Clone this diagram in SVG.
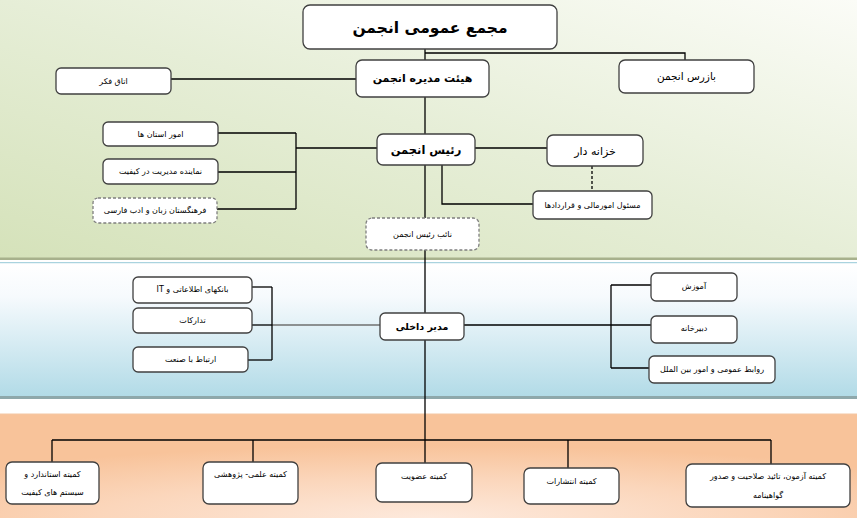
<svg xmlns="http://www.w3.org/2000/svg" width="857" height="518" viewBox="0 0 857 518">
<defs>
<linearGradient id="gGreen" x1="1" y1="0" x2="0" y2="1">
<stop offset="0" stop-color="#fbfcf7"/>
<stop offset="0.5" stop-color="#e6eed7"/>
<stop offset="1" stop-color="#d5e2ba"/>
</linearGradient>
<linearGradient id="gBlue" x1="0" y1="0" x2="0" y2="1">
<stop offset="0" stop-color="#ffffff"/>
<stop offset="0.25" stop-color="#f6fafd"/>
<stop offset="1" stop-color="#b2dbe7"/>
</linearGradient>
<radialGradient id="gOrange" cx="0.5" cy="1" r="0.7">
<stop offset="0" stop-color="#fde9dc"/>
<stop offset="0.55" stop-color="#fbd6bb"/>
<stop offset="1" stop-color="#f8c39a"/>
</radialGradient>
<style>
.box{fill:#fff;stroke:#404040;stroke-width:1.3}
.dbox{fill:#fff;stroke:#7f7f7f;stroke-width:1.3;stroke-dasharray:3 2}
.ln{fill:none;stroke:#000;stroke-width:1.3}
.dash{fill:none;stroke:#000;stroke-width:1.3;stroke-dasharray:3 2}
text{font-family:"DejaVu Sans","Noto Sans",sans-serif;fill:#000;text-anchor:middle;direction:rtl;unicode-bidi:embed}
.s{font-size:8px}
.b{font-weight:bold}
</style>
</defs>

<!-- background bands -->
<rect x="0" y="0" width="857" height="258" fill="url(#gGreen)"/>
<rect x="0" y="257.5" width="857" height="2.5" fill="#a7b18c"/>
<rect x="0" y="262" width="857" height="1.5" fill="#a9d3df"/>
<rect x="0" y="263.5" width="857" height="132.5" fill="url(#gBlue)"/>
<rect x="0" y="396" width="857" height="3" fill="#8ea8ab"/>
<rect x="0" y="414" width="857" height="104" fill="url(#gOrange)"/>
<rect x="0" y="413.5" width="857" height="1" fill="#f3c7a4"/>

<g id="connectors">
<path class="ln" d="M425 49 V60"/>
<path class="ln" d="M425 53 H685 V60"/>
<path class="ln" d="M171 79 H356"/>
<path class="ln" d="M425 97 V134"/>
<path class="ln" d="M377 148 H296"/>
<path class="ln" d="M296 133 V209"/>
<path class="ln" d="M218 133 H296"/>
<path class="ln" d="M218 172 H296"/>
<path class="ln" d="M217 209 H296"/>
<path class="ln" d="M475 148 H547"/>
<path class="dash" d="M592 166 V191"/>
<path class="ln" d="M442 165 V204 H533"/>
<path class="ln" d="M425 165 V218"/>
<path class="ln" d="M425 250 V313"/>
<path class="ln" d="M425 340 V463"/>
<path fill="none" stroke="#6f6f6f" stroke-width="1.6" d="M380 325 H272"/>
<path class="ln" d="M272 287 V360"/>
<path class="ln" d="M252 287 H272"/>
<path class="ln" d="M252 325 H272"/>
<path class="ln" d="M248 360 H272"/>
<path class="ln" d="M464 325 H611"/>
<path class="ln" d="M611 285 V368"/>
<path class="ln" d="M611 285 H651"/>
<path class="ln" d="M611 325 H651"/>
<path class="ln" d="M611 368 H649"/>
<path class="ln" d="M52 440 H771"/>
<path class="ln" d="M52 440 V462"/>
<path class="ln" d="M253 440 V462"/>
<path class="ln" d="M568 440 V468"/>
<path class="ln" d="M771 440 V464"/>
</g>

<g id="n-general-assembly">
<rect class="box" x="303" y="5" width="254" height="44" rx="7"/>
<text class="b" x="430" y="33" font-size="15.5">مجمع عمومی انجمن</text>
</g>
<g id="n-board">
<rect class="box" x="356" y="60" width="133" height="37" rx="6"/>
<text class="b" x="422.5" y="82" font-size="11">هیئت مدیره انجمن</text>
</g>
<g id="n-inspector">
<rect class="box" x="619" y="60" width="135" height="33" rx="6"/>
<text x="686.5" y="80" font-size="10.5">بازرس انجمن</text>
</g>
<g id="n-thinktank">
<rect class="box" x="56" y="68" width="115" height="26" rx="5"/>
<text class="s" x="113.5" y="84">اتاق فکر</text>
</g>
<g id="n-president">
<rect class="box" x="377" y="134" width="98" height="31" rx="6"/>
<text class="b" x="426" y="154" font-size="11.5">رئیس انجمن</text>
</g>
<g id="n-treasurer">
<rect class="box" x="547" y="135" width="96" height="31" rx="6"/>
<text x="595" y="155" font-size="11">خزانه دار</text>
</g>
<g id="n-finance">
<rect class="box" x="533" y="191" width="119" height="28" rx="5"/>
<text class="s" x="592.5" y="208">مسئول امورمالی و قراردادها</text>
</g>
<g id="n-vice">
<rect class="dbox" x="366" y="218" width="113" height="32" rx="6"/>
<text class="s" x="422.5" y="237">نائب رئیس انجمن</text>
</g>
<g id="n-provinces">
<rect class="box" x="103" y="122" width="115" height="24" rx="5"/>
<text class="s" x="160.5" y="137">امور استان ها</text>
</g>
<g id="n-quality-rep">
<rect class="box" x="103" y="159" width="115" height="25" rx="5"/>
<text class="s" x="160.5" y="174">نماینده مدیریت در کیفیت</text>
</g>
<g id="n-academy">
<rect class="dbox" x="93" y="198" width="124" height="25" rx="5"/>
<text class="s" x="155" y="213">فرهنگستان زبان و ادب فارسی</text>
</g>
<g id="n-internal-manager">
<rect class="box" x="380" y="313" width="84" height="27" rx="5"/>
<text class="b" x="422" y="330" font-size="9.5">مدیر داخلی</text>
</g>
<g id="n-it">
<rect class="box" x="133" y="277" width="119" height="26" rx="5"/>
<text class="s" x="192.5" y="292">بانکهای اطلاعاتی و IT</text>
</g>
<g id="n-procurement">
<rect class="box" x="133" y="308" width="119" height="25" rx="5"/>
<text class="s" x="192.5" y="323">تدارکات</text>
</g>
<g id="n-industry">
<rect class="box" x="133" y="347" width="115" height="25" rx="5"/>
<text class="s" x="190.5" y="362">ارتباط با صنعت</text>
</g>
<g id="n-training">
<rect class="box" x="651" y="273" width="86" height="28" rx="5"/>
<text class="s" x="694" y="289">آموزش</text>
</g>
<g id="n-secretariat">
<rect class="box" x="651" y="316" width="86" height="27" rx="5"/>
<text class="s" x="694" y="331">دبیرخانه</text>
</g>
<g id="n-pr">
<rect class="box" x="649" y="356" width="126" height="27" rx="5"/>
<text class="s" x="712" y="372">روابط عمومی و امور بین الملل</text>
</g>
<g id="n-standards">
<rect class="box" x="6" y="462" width="93" height="42" rx="6"/>
<text class="s" x="52.5" y="477">کمیته استاندارد و</text>
<text class="s" x="52.5" y="495">سیستم های کیفیت</text>
</g>
<g id="n-scientific">
<rect class="box" x="203" y="462" width="95" height="42" rx="6"/>
<text class="s" x="250.5" y="477">کمیته علمی- پژوهشی</text>
</g>
<g id="n-membership">
<rect class="box" x="376" y="463" width="96" height="39" rx="6"/>
<text class="s" x="424" y="479">کمیته عضویت</text>
</g>
<g id="n-publications">
<rect class="box" x="524" y="468" width="95" height="36" rx="6"/>
<text class="s" x="571.5" y="484">کمیته انتشارات</text>
</g>
<g id="n-exam">
<rect class="box" x="686" y="464" width="164" height="43" rx="6"/>
<text class="s" x="768" y="479">کمیته آزمون، تائید صلاحیت و صدور</text>
<text class="s" x="768" y="498">گواهینامه</text>
</g>
</svg>
